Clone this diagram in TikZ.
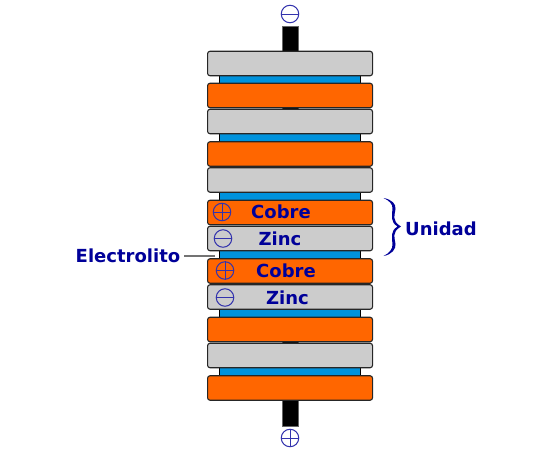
\documentclass[tikz,border=0pt]{standalone}
\usepackage{fontspec}
\setmainfont{DejaVu Sans}
\definecolor{copperc}{HTML}{FF6600}
\definecolor{zincc}{HTML}{CCCCCC}
\definecolor{elec}{HTML}{0092DC}
\definecolor{labelc}{HTML}{000099}
\tikzset{
  plate/.style={draw=black!85,line width=1.1pt,rounded corners=2.5pt,minimum width=165pt,minimum height=24.5pt,inner sep=0pt,anchor=north west},
  cu/.style={plate,fill=copperc},
  zn/.style={plate,fill=zincc},
  electrolyte/.style={draw=black,line width=0.7pt,fill=elec,minimum width=141pt,minimum height=9pt,inner sep=0pt,anchor=north west},
  terminal/.style={fill=black,draw=black!60,line width=0.4pt,minimum width=16pt,inner sep=0pt,anchor=north west},
  sign/.style={circle,draw=labelc!80,line width=1pt,minimum size=17.5pt,inner sep=0pt},
  lbl/.style={text=labelc,font=\fontsize{18}{20}\selectfont\bfseries,inner sep=0pt,anchor=base},
  leader/.style={draw=black!55,line width=1.1pt}
}
\newcommand{\plusmark}[1]{\draw[labelc!80,line width=1pt] (#1.north) -- (#1.south) (#1.west) -- (#1.east);}
\newcommand{\minusmark}[1]{\draw[labelc!80,line width=1pt] (#1.west) -- (#1.east);}
\begin{document}
\begin{tikzpicture}[x=1pt,y=-1pt]
\useasboundingbox (0,0) rectangle (550,450);
% terminals
\node[terminal,minimum height=25.5pt] (ttop) at (281.7,25.7) {};
\node[terminal,minimum height=25.5pt] (tbot) at (281.7,400) {};
\node[terminal,minimum height=2pt] (j1) at (281.7,107.3) {};
\node[terminal,minimum height=2pt] (j2) at (281.7,341.3) {};
% electrolyte
\foreach \n/\y in {e1/74.7,e2/133.2,e3/191.7,e4/250.2,e5/308.2,e6/367.2}
  \node[electrolyte] (\n) at (219,\y) {};
% plates
\node[zn] (p1) at (207,50.7) {};
\node[cu] (p2) at (207,82.7) {};
\node[zn] (p3) at (207,108.7) {};
\node[cu] (p4) at (207,141.2) {};
\node[zn] (p5) at (207,167.2) {};
\node[cu] (p6) at (207,199.7) {};
\node[zn] (p7) at (207,225.7) {};
\node[cu] (p8) at (207,258.2) {};
\node[zn] (p9) at (207,284.2) {};
\node[cu] (p10) at (207,316.7) {};
\node[zn] (p11) at (207,342.7) {};
\node[cu] (p12) at (207,375.2) {};
% signs
\node[sign] (s1) at (290,14) {}; \minusmark{s1}
\node[sign] (s2) at (290,438) {}; \plusmark{s2}
\node[sign] (s3) at (222,212) {}; \plusmark{s3}
\node[sign] (s4) at (223,238.5) {}; \minusmark{s4}
\node[sign] (s5) at (225,270.5) {}; \plusmark{s5}
\node[sign] (s6) at (225,297.5) {}; \minusmark{s6}
% labels
\node[lbl] (c1) at (281,218) {Cobre};
\node[lbl] (z1) at (280,245) {Zinc};
\node[lbl] (c2) at (286,277) {Cobre};
\node[lbl] (z2) at (287.5,304) {Zinc};
\node[lbl] (el) at (128,262) {Electrolito};
\node[lbl] (un) at (441,235) {Unidad};
\coordinate (elend) at (215,256);
\draw[leader] (el.east |- elend) ++(4,0) -- (elend);
% brace
\fill[labelc] (383.5,198) .. controls (392,199.5) and (396,204) .. (395.5,209)
  .. controls (395,215) and (391,220.5) .. (401,226.5)
  .. controls (391,232.5) and (395,238) .. (395.5,244)
  .. controls (396,249) and (392,254.5) .. (383.5,256)
  .. controls (389,253.5) and (393,249) .. (392.5,244)
  .. controls (392,238) and (390,231) .. (397.5,226.5)
  .. controls (390,222) and (392,215) .. (392.5,209)
  .. controls (393,204) and (389,200.5) .. (383.5,198) -- cycle;
\end{tikzpicture}
\end{document}
